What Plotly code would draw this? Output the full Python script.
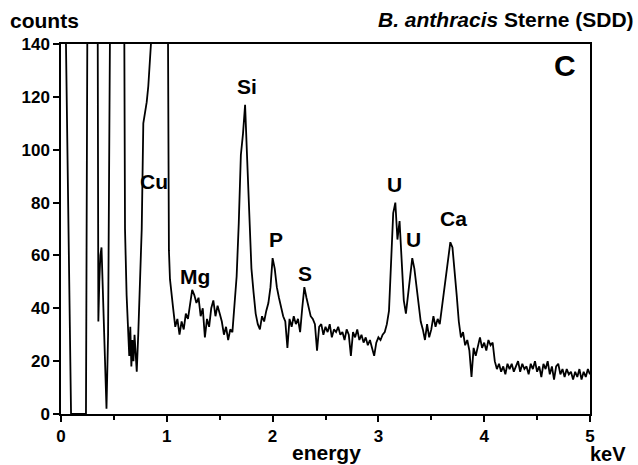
import numpy as np
import plotly.graph_objects as go

# ---- data ----
energy_low = [0.0, 0.047, 0.095, 0.16, 0.236, 0.249, 0.30, 0.347, 0.353, 0.362, 0.372,
              0.383, 0.392, 0.405, 0.42, 0.43, 0.445, 0.463, 0.53, 0.596, 0.605, 0.62,
              0.637, 0.645, 0.655, 0.665, 0.675, 0.685, 0.695, 0.705, 0.716, 0.73, 0.75,
              0.763, 0.778, 0.794, 0.81, 0.825, 0.84, 0.858, 0.93, 1.009, 1.02, 1.03, 1.045]
counts_low = [900, 140, 0, 0, 0, 145, 900, 145, 35, 50, 60,
              63, 52, 35, 10, 2, 30, 145, 900, 145, 70, 45,
              30, 22, 33, 18, 28, 20, 30, 24, 16, 30, 50,
              70, 110, 114, 118, 124, 132, 145, 900, 145, 62, 51, 44]

# uniform channel grid from 1.06 keV to 5.00 keV (0.02 keV steps)
counts_high = [
    40, 33, 36, 30, 35, 32, 38, 36, 42, 47,      # 1.06-1.24
    45, 42, 44, 37, 40, 29, 36, 33, 40, 43,      # 1.26-1.44
    37, 41, 38, 35, 30, 33, 28, 32, 31, 40,      # 1.46-1.64
    52, 72, 98, 106, 117, 96, 75, 55, 46, 38,    # 1.66-1.84
    34, 32, 37, 35, 39, 42, 48, 59, 55, 48,      # 1.86-2.04
    44, 40, 37, 35, 25, 36, 33, 37, 34, 36,      # 2.06-2.24
    31, 40, 48, 44, 40, 37, 36, 34, 24, 33,      # 2.26-2.44
    34, 30, 33, 31, 34, 29, 32, 31, 33, 30,      # 2.46-2.64
    31, 28, 32, 30, 22, 31, 29, 32, 28, 30,      # 2.66-2.84
    27, 29, 26, 28, 25, 22, 27, 29, 28, 30,      # 2.86-3.04
    31, 34, 39, 55, 76, 80, 66, 73, 55, 43,      # 3.06-3.24
    38, 45, 54, 59, 55, 48, 40, 35, 32, 28,      # 3.26-3.44
    34, 29, 32, 37, 33, 36, 34, 40, 46, 52,      # 3.46-3.64
    58, 65, 63, 55, 45, 35, 29, 31, 26, 28,      # 3.66-3.84
    24, 14, 25, 22, 26, 29, 25, 27, 24, 28,      # 3.86-4.04
    26, 27, 20, 17, 19, 16, 18, 15, 19, 17,      # 4.06-4.24
    19, 16, 18, 20, 16, 19, 17, 18, 15, 19,      # 4.26-4.44
    17, 20, 16, 18, 14, 19, 17, 20, 15, 18,      # 4.46-4.64
    13, 18, 19, 15, 17, 14, 17, 15, 16, 13,      # 4.66-4.84
    16, 14, 17, 13, 16, 14, 17, 15,              # 4.86-5.00
]
energy_high = list(np.round(np.arange(1.06, 1.06 + 0.02 * len(counts_high) - 1e-9, 0.02), 3))

peak_labels = ["Cu", "Si", "Mg", "P", "S", "U", "U", "Ca"]
peak_x = [0.88, 1.76, 1.27, 2.03, 2.31, 3.15, 3.33, 3.71]
peak_y = [88, 124, 52, 66, 53, 87, 66, 74]

energy = energy_low + energy_high
counts = counts_low + counts_high

FONT = "Liberation Sans, Arial, sans-serif"

fig = go.Figure()
fig.add_trace(go.Scatter(x=energy, y=counts, mode="lines",
                         line=dict(color="black", width=1.8), hoverinfo="skip"))

for t, x, y in zip(peak_labels, peak_x, peak_y):
    fig.add_annotation(x=x, y=y, text="<b>%s</b>" % t, showarrow=False,
                       font=dict(family=FONT, size=21, color="black"))

fig.add_annotation(x=4.76, y=132, text="<b>C</b>", showarrow=False,
                   font=dict(family=FONT, size=30, color="black"))

fig.add_annotation(xref="paper", yref="paper", x=-0.1, y=1.064, xanchor="left",
                   yanchor="middle", text="<b>counts</b>", showarrow=False,
                   font=dict(family=FONT, size=21, color="black"))
fig.add_annotation(xref="paper", yref="paper", x=1.0876, y=1.066, xanchor="right",
                   yanchor="middle", text="<b><i>B. anthracis</i> Sterne (SDD)</b>",
                   showarrow=False, font=dict(family=FONT, size=21, color="black"))
fig.add_annotation(xref="paper", yref="paper", x=0.501, y=-0.103, xanchor="center",
                   yanchor="middle", text="<b>energy</b>", showarrow=False,
                   font=dict(family=FONT, size=21, color="black"))
fig.add_annotation(xref="paper", yref="paper", x=0.9968, y=-0.108, xanchor="left",
                   yanchor="middle", text="<b>keV</b>", showarrow=False,
                   font=dict(family=FONT, size=20, color="black"))

fig.update_xaxes(range=[0, 5], dtick=1, tick0=0, showgrid=False, zeroline=False,
                 showline=True, mirror=True, linecolor="black", linewidth=1.5,
                 ticks="outside", ticklen=6, tickwidth=1.5, tickcolor="black",
                 minor=dict(dtick=0.5, ticks="outside", ticklen=4, tickwidth=1.5,
                            tickcolor="black", showgrid=False),
                 tickfont=dict(family=FONT, size=17, color="black", weight="bold"))
fig.update_yaxes(range=[0, 140], dtick=20, tick0=0, showgrid=False, zeroline=False,
                 showline=True, mirror=True, linecolor="black", linewidth=1.5,
                 ticks="outside", ticklen=6, tickwidth=1.5, tickcolor="black",
                 tickfont=dict(family=FONT, size=17, color="black", weight="bold"))

fig.update_layout(width=638, height=465, autosize=False,
                  margin=dict(l=61, r=48, t=44, b=51),
                  paper_bgcolor="white", plot_bgcolor="white", showlegend=False)

fig.write_html("out.html")
